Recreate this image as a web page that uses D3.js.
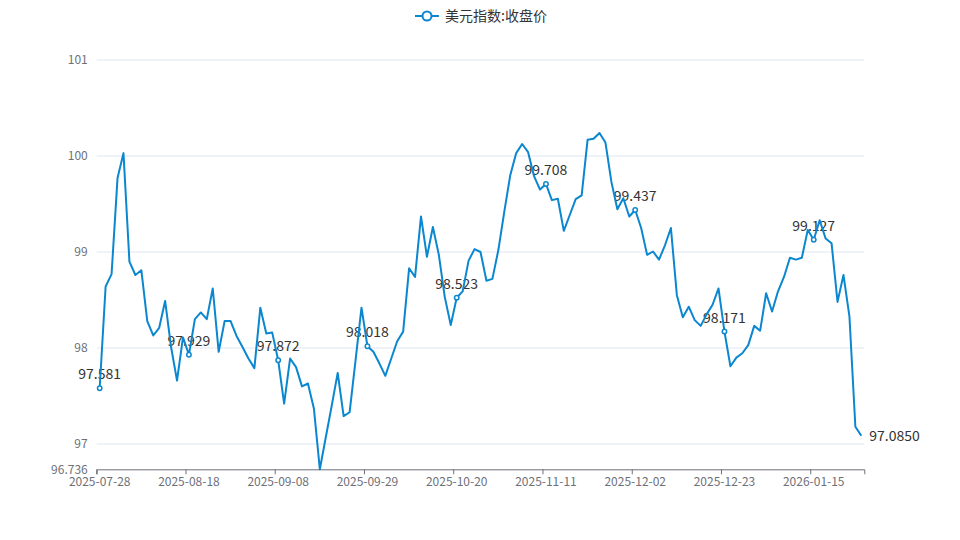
<!DOCTYPE html>
<html>
<head>
<meta charset="utf-8">
<script src="https://cdn.jsdelivr.net/npm/d3@7"></script>
<style>
  body { margin: 0; background: #fff; }
  text { font-family: "Microsoft YaHei", "Noto Sans CJK SC", sans-serif; }
</style>
</head>
<body>
<svg id="chart" width="960" height="540"></svg>
<script>
var dates = [
  '2025-07-28', '2025-07-29', '2025-07-30', '2025-07-31', '2025-08-01',
  '2025-08-04', '2025-08-05', '2025-08-06', '2025-08-07', '2025-08-08',
  '2025-08-11', '2025-08-12', '2025-08-13', '2025-08-14', '2025-08-15',
  '2025-08-18', '2025-08-19', '2025-08-20', '2025-08-21', '2025-08-22',
  '2025-08-25', '2025-08-26', '2025-08-27', '2025-08-28', '2025-08-29',
  '2025-09-01', '2025-09-02', '2025-09-03', '2025-09-04', '2025-09-05',
  '2025-09-08', '2025-09-09', '2025-09-10', '2025-09-11', '2025-09-12',
  '2025-09-15', '2025-09-16', '2025-09-17', '2025-09-18', '2025-09-19',
  '2025-09-22', '2025-09-23', '2025-09-24', '2025-09-25', '2025-09-26',
  '2025-09-29', '2025-09-30', '2025-10-01', '2025-10-02', '2025-10-03',
  '2025-10-06', '2025-10-07', '2025-10-08', '2025-10-09', '2025-10-10',
  '2025-10-13', '2025-10-14', '2025-10-15', '2025-10-16', '2025-10-17',
  '2025-10-20', '2025-10-21', '2025-10-22', '2025-10-23', '2025-10-24',
  '2025-10-27', '2025-10-28', '2025-10-29', '2025-10-30', '2025-10-31',
  '2025-11-04', '2025-11-05', '2025-11-06', '2025-11-07', '2025-11-10',
  '2025-11-11', '2025-11-12', '2025-11-13', '2025-11-14', '2025-11-17',
  '2025-11-18', '2025-11-19', '2025-11-20', '2025-11-21', '2025-11-24',
  '2025-11-25', '2025-11-26', '2025-11-27', '2025-11-28', '2025-12-01',
  '2025-12-02', '2025-12-03', '2025-12-04', '2025-12-05', '2025-12-08',
  '2025-12-09', '2025-12-10', '2025-12-11', '2025-12-12', '2025-12-15',
  '2025-12-16', '2025-12-17', '2025-12-18', '2025-12-19', '2025-12-22',
  '2025-12-23', '2025-12-24', '2025-12-26', '2025-12-29', '2025-12-30',
  '2025-12-31', '2026-01-02', '2026-01-05', '2026-01-06', '2026-01-07',
  '2026-01-08', '2026-01-09', '2026-01-12', '2026-01-13', '2026-01-14',
  '2026-01-15', '2026-01-16', '2026-01-19', '2026-01-20', '2026-01-21',
  '2026-01-22', '2026-01-23', '2026-01-26', '2026-01-27'
]

var closes = [
  97.581, 98.64, 98.77, 99.77, 100.03, 98.90, 98.76, 98.81, 98.28, 98.13,
  98.21, 98.49, 98.01, 97.66, 98.11, 97.929, 98.30, 98.37, 98.30, 98.62,
  97.96, 98.28, 98.28, 98.125, 98.01, 97.89, 97.79, 98.42, 98.15, 98.16,
  97.872, 97.42, 97.89, 97.80, 97.60, 97.63, 97.37, 96.736, 97.07, 97.40,
  97.74, 97.29, 97.33, 97.87, 98.42, 98.018, 97.96, 97.84, 97.71, 97.89,
  98.07, 98.17, 98.83, 98.74, 99.37, 98.95, 99.26, 98.97, 98.53, 98.24,
  98.523, 98.59, 98.91, 99.03, 99.00, 98.70, 98.72, 99.02, 99.42, 99.80,
  100.03, 100.125, 100.04, 99.79, 99.65, 99.708, 99.54, 99.555, 99.22, 99.385,
  99.55, 99.59, 100.17, 100.18, 100.24, 100.14, 99.73, 99.445, 99.56, 99.37,
  99.437, 99.25, 98.97, 99.005, 98.92, 99.07, 99.25, 98.55, 98.32, 98.43,
  98.29, 98.23, 98.35, 98.45, 98.62, 98.171, 97.81, 97.90, 97.945, 98.03,
  98.23, 98.18, 98.57, 98.38, 98.59, 98.74, 98.94, 98.92, 98.94, 99.23,
  99.127, 99.33, 99.14, 99.09, 98.48, 98.76, 98.33, 97.18, 97.085
]

var yTicks = [97, 98, 99, 100, 101]
var yMin = 96.736
var yMax = 101
var seriesName = '美元指数:收盘价'
var labelEvery = 15

var lineColor = '#0a87cf'
var axisColor = '#6e7079'

var svg = d3.select('#chart')
var margin = {top: 60, right: 95.7, bottom: 70.7, left: 96.7}
var w = 960 - margin.left - margin.right
var h = 540 - margin.top - margin.bottom

var g = svg.append('g')
  .attr('transform', 'translate(' + margin.left + ',' + margin.top + ')')

var x = d3.scaleBand().domain(dates).range([0, w])
var bw = x.bandwidth()
var y = d3.scaleLinear().domain([yMin, yMax]).range([h, 0])

function px (i) { return x(dates[i]) + bw / 2 }

// grid lines
g.append('g').selectAll('line')
  .data(yTicks)
  .enter().append('line')
  .attr('x1', 0)
  .attr('x2', w)
  .attr('y1', function (d) { return y(d) })
  .attr('y2', function (d) { return y(d) })
  .attr('stroke', '#e0e6f1')
  .attr('stroke-width', 1)

// y labels
var yAxis = g.append('g')
  .call(d3.axisLeft(y)
    .tickValues(yTicks.concat([yMin]))
    .tickSize(0)
    .tickPadding(9)
    .tickFormat(function (d) { return d === yMin ? '96.736' : d }))
yAxis.select('.domain').remove()
yAxis.selectAll('text')
  .attr('fill', axisColor)
  .style('font-size', '12px')

// x axis, ticks sit on band edges, labels on band centres
var xAxis = g.append('g')
  .attr('transform', 'translate(0,' + h + ')')
  .call(d3.axisBottom(x)
    .tickValues(dates.filter(function (d, i) { return i % labelEvery === 0 }))
    .tickSizeInner(5)
    .tickSizeOuter(5)
    .tickPadding(3))
xAxis.select('.domain').attr('stroke', axisColor)
xAxis.selectAll('.tick line')
  .attr('stroke', axisColor)
  .attr('x1', -bw / 2)
  .attr('x2', -bw / 2)
xAxis.selectAll('.tick text')
  .attr('fill', axisColor)
  .style('font-size', '12px')

var labelIdx = d3.range(0, closes.length, labelEvery)

// point labels (under the line)
g.append('g').selectAll('text')
  .data(labelIdx)
  .enter().append('text')
  .attr('x', function (i) { return px(i) })
  .attr('y', function (i) { return y(closes[i]) - 9 })
  .attr('text-anchor', 'middle')
  .attr('fill', '#333')
  .style('font-size', '14px')
  .text(function (i) { return closes[i].toFixed(3) })

var line = d3.line()
  .x(function (d, i) { return px(i) })
  .y(function (d) { return y(d) })

g.append('path')
  .datum(closes)
  .attr('fill', 'none')
  .attr('stroke', lineColor)
  .attr('stroke-width', 2)
  .attr('stroke-linejoin', 'round')
  .attr('d', line)

g.append('g').selectAll('circle')
  .data(labelIdx)
  .enter().append('circle')
  .attr('cx', function (i) { return px(i) })
  .attr('cy', function (i) { return y(closes[i]) })
  .attr('r', 2.2)
  .attr('fill', '#fff')
  .attr('stroke', lineColor)
  .attr('stroke-width', 1.5)

// end label
var last = closes.length - 1
g.append('text')
  .attr('x', px(last) + 8)
  .attr('y', y(closes[last]))
  .attr('dy', '0.35em')
  .attr('fill', '#333')
  .style('font-size', '14px')
  .text(closes[last].toFixed(4))

// legend
var legend = svg.append('g').attr('transform', 'translate(415,16)')
legend.append('line')
  .attr('x1', 0).attr('x2', 24)
  .attr('stroke', lineColor)
  .attr('stroke-width', 2)
legend.append('circle')
  .attr('cx', 12)
  .attr('r', 4.5)
  .attr('fill', '#fff')
  .attr('stroke', lineColor)
  .attr('stroke-width', 2)
legend.append('text')
  .attr('x', 30)
  .attr('dy', '0.35em')
  .attr('fill', '#333')
  .style('font-size', '14px')
  .text(seriesName)
</script>
</body>
</html>
